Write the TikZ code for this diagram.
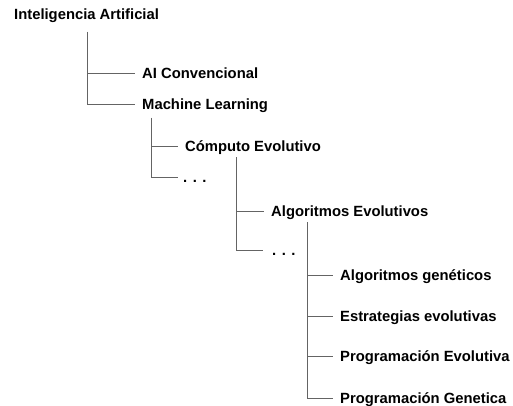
\documentclass[tikz,border=0pt]{standalone}
\usepackage{fontspec}
\setmainfont{Liberation Sans}
\usepackage{tikz}
\usetikzlibrary{arrows.meta}
\definecolor{linegray}{RGB}{100,100,100}

\begin{document}
\begin{tikzpicture}[
    x=1pt, y=-1pt,
    item/.style={anchor=west, inner sep=0pt, font=\fontsize{14.8}{17}\selectfont\bfseries,
                 text height=10.5pt, text depth=0pt},
    branch/.style={draw=linegray, line width=0.8pt, shorten >=7pt}
]
    \useasboundingbox (0,0) rectangle (513,406);
    \node[item] (root) at (14,14) {Inteligencia Artificial};
    \node[item] (aiconv) at (142,73) {AI Convencional};
    \node[item] (ml) at (142,104) {Machine Learning};
    \node[item] (computo) at (185,146) {Cómputo Evolutivo};
    \node[item] (dots1) at (183,177) {. . .};
    \node[item] (algevo) at (271,211) {Algoritmos Evolutivos};
    \node[item] (dots2) at (272,250) {. . .};
    \node[item] (ag) at (340,275) {Algoritmos genéticos};
    \node[item] (ee) at (340,316) {Estrategias evolutivas};
    \node[item] (pe) at (340,356) {Programación Evolutiva};
    \node[item] (pg) at (340,398) {Programación Genetica};
    % tree lines
    \draw[branch] (root.west) ++(73,18) coordinate (l1) |- (aiconv.west);
    \draw[branch] (l1) |- (ml.west);
    \draw[branch] (ml.west) ++(9,14) coordinate (l2) |- (computo.west);
    \draw[branch, shorten >=5pt] (l2) |- (dots1.west);
    \draw[branch] (computo.west) ++(51,11) coordinate (l3) |- (algevo.west);
    \draw[branch, shorten >=9pt] (l3) |- (dots2.west);
    \draw[branch] (algevo.west) ++(36,11) coordinate (l4) |- (ag.west);
    \draw[branch] (l4) |- (ee.west); \draw[branch] (l4) |- (pe.west);
    \draw[branch] (l4) |- (pg.west);
\end{tikzpicture}
\end{document}
